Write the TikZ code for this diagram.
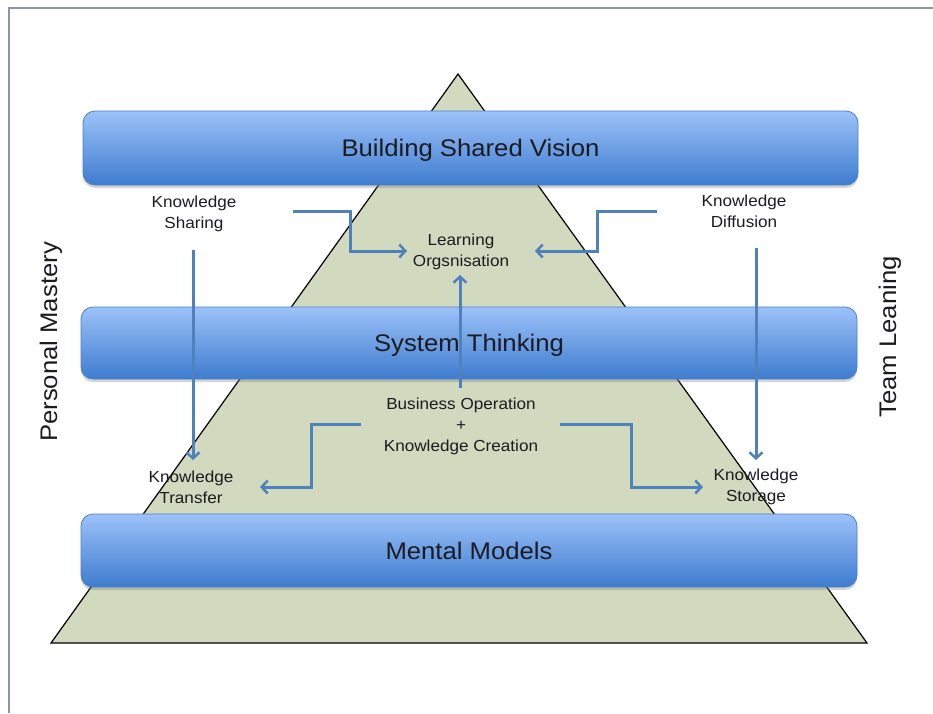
\documentclass[tikz,border=0pt]{standalone}
\usepackage{fontspec}
\setmainfont{Liberation Sans}[FakeStretch=1.07]
\usetikzlibrary{arrows.meta,shadows}
\definecolor{pyr}{HTML}{D1DABE}
\definecolor{bartop}{HTML}{9CC2F8}
\definecolor{barbot}{HTML}{3E7CCF}
\definecolor{barline}{HTML}{4A80C8}
\definecolor{arrc}{HTML}{4F81BD}
\definecolor{framec}{HTML}{8A96A6}
\definecolor{txt}{HTML}{1B1B22}
\tikzset{
  bar/.style={rounded corners=12pt, top color=bartop, bottom color=barbot, draw=barline, line width=0.8pt,
    text=txt, font=\fontsize{24}{28}\selectfont, text height=17pt, text depth=0pt,
    drop shadow={opacity=0.35, shadow xshift=0pt, shadow yshift=-3pt}},
  lbl/.style={align=center, text=txt, font=\fontsize{16}{21}\selectfont, inner sep=1pt},
  side/.style={rotate=90, text=txt, font=\fontsize{24}{28}\selectfont},
  arr/.style={draw=arrc, line width=3pt, -{Straight Barb[length=6pt,width=13pt,line width=2.5pt]}},
}
\begin{document}
\begin{tikzpicture}[x=1pt,y=-1pt]
\useasboundingbox (0,0) rectangle (933,713);
% frame
\draw[framec, line width=2pt] (9,713) -- (9,8) -- (933,8);
% pyramid
\draw[fill=pyr, line width=1.2pt, line join=miter] (458,74) -- (867,643) -- (51,643) -- cycle;
% bars
\node[bar, minimum width=775pt, minimum height=74pt] (bsv) at (470.5,148) {Building Shared Vision};
\node[bar, minimum width=776pt, minimum height=72pt] (st) at (469,343) {System Thinking};
\node[bar, minimum width=776pt, minimum height=73pt] (mm) at (469,550.5) {Mental Models};
% labels
\node[lbl] (ks) at (194,214) {Knowledge\\Sharing};
\node[lbl] (kd) at (744,211) {Knowledge\\Diffusion};
\node[lbl] (lo) at (461,252) {Learning\\Orgsnisation};
\node[lbl] (bo) at (461,426) {Business Operation\\+\\Knowledge Creation};
\node[lbl] (kt) at (191,487) {Knowledge\\Transfer};
\node[lbl] (kst) at (756,487) {Knowledge\\Storage};
\node[side] (pm) at (51,342) {Personal Mastery};
\node[side] (tl) at (890,337) {Team Leaning};
% connector points
\coordinate (a1s) at (293,211);
\coordinate (a1e) at (407,251);
\coordinate (a2s) at (657,211);
\coordinate (a2e) at (535,251);
\coordinate (a3s) at (460,388);
\coordinate (a3e) at (460,275);
\coordinate (a4s) at (193,250);
\coordinate (a4e) at (193,460);
\coordinate (a5s) at (756,248);
\coordinate (a5e) at (756,460);
\coordinate (a6s) at (361,424);
\coordinate (a6e) at (260,487);
\coordinate (a7s) at (560,424);
\coordinate (a7e) at (703,487);
% arrows
\draw[arr] (a1s) -- (350,211) -- (350,251) -- (a1e);
\draw[arr] (a2s) -- (597,211) -- (597,251) -- (a2e);
\draw[arr] (a3s) -- (a3e);
\draw[arr] (a4s) -- (a4e);
\draw[arr] (a5s) -- (a5e);
\draw[arr] (a6s) -- (311,424) -- (311,487) -- (a6e);
\draw[arr] (a7s) -- (631,424) -- (631,487) -- (a7e);
\end{tikzpicture}
\end{document}
